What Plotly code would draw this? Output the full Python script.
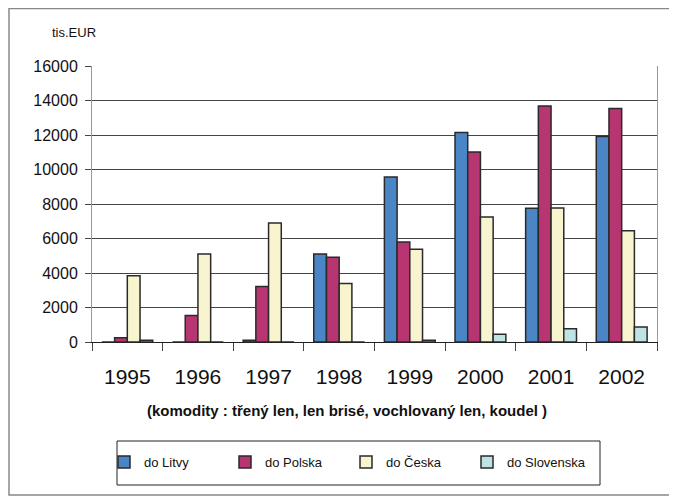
import plotly.graph_objects as go

years = ["1995", "1996", "1997", "1998", "1999", "2000", "2001", "2002"]
litva = [0, 0, 100, 5100, 9570, 12150, 7750, 11920]
polska = [250, 1530, 3220, 4920, 5800, 11010, 13680, 13530]
cesko = [3840, 5100, 6900, 3390, 5370, 7250, 7770, 6450]
slovensko = [100, 0, 0, 0, 100, 450, 775, 870]

series = [
    ("do Litvy", litva, "#4a86c5"),
    ("do Polska", polska, "#b73571"),
    ("do Česka", cesko, "#f8f4d0"),
    ("do Slovenska", slovensko, "#bfe3e3"),
]

fig = go.Figure()
for name, vals, col in series:
    fig.add_trace(go.Bar(
        x=years, y=vals, name=name,
        marker=dict(color=col, line=dict(color="#2a2a2a", width=1.5)),
    ))

# page body adds an 8px offset; work in reference pixel coordinates
OFF = 8
W, H = 677 - OFF, 499 - OFF
L, T = 92 - OFF, 66 - OFF
R = W - (657 - OFF)
B = H - (342 - OFF)
pw, ph = W - L - R, H - T - B

def px(x):
    return (x - OFF - L) / pw

def py(y):
    return (H - B - (y - OFF)) / ph

fig.update_layout(
    width=W, height=H,
    margin=dict(l=L, r=R, t=T, b=B),
    paper_bgcolor="white", plot_bgcolor="white",
    barmode="group", bargap=0.28, bargroupgap=0,
    font=dict(family="Arial, Liberation Sans, sans-serif", color="#111"),
    showlegend=True,
    legend=dict(
        orientation="h", x=px(104), y=py(462), xanchor="left", yanchor="middle",
        font=dict(size=13), entrywidth=76, entrywidthmode="pixels",
        bgcolor="rgba(0,0,0,0)", borderwidth=0, traceorder="normal",
    ),
    xaxis=dict(
        type="category", showline=True, linecolor="#222", linewidth=1,
        ticks="outside", tickson="boundaries", ticklen=8, tickcolor="#444",
        tickfont=dict(size=21), showgrid=False, ticklabelstandoff=16,
    ),
    yaxis=dict(
        range=[0, 16000], dtick=2000, tickformat="d", showline=True, mirror=True,
        linecolor="#999", linewidth=1, ticks="outside", ticklen=6,
        tickcolor="#444", tickfont=dict(size=16), gridcolor="#444",
        gridwidth=1, zeroline=False, ticklabelstandoff=4,
    ),
    shapes=[
        dict(type="rect", xref="paper", yref="paper",
             x0=px(9), x1=px(673), y0=py(495), y1=py(8.5),
             line=dict(color="#888", width=1.5), layer="below"),
        dict(type="rect", xref="paper", yref="paper",
             x0=px(117), x1=px(600), y0=py(485), y1=py(441),
             line=dict(color="#222", width=1)),
    ],
    annotations=[
        dict(text="tis.EUR", xref="paper", yref="paper", x=px(74), y=py(33),
             xanchor="center", yanchor="middle",
             showarrow=False, font=dict(size=13)),
        dict(text="<b>(komodity : třený len, len brisé, vochlovaný len, koudel )</b>",
             xref="paper", yref="paper", x=px(347), y=py(410),
             xanchor="center", yanchor="middle",
             showarrow=False, font=dict(size=15)),
    ],
)

fig.write_html("out.html")
